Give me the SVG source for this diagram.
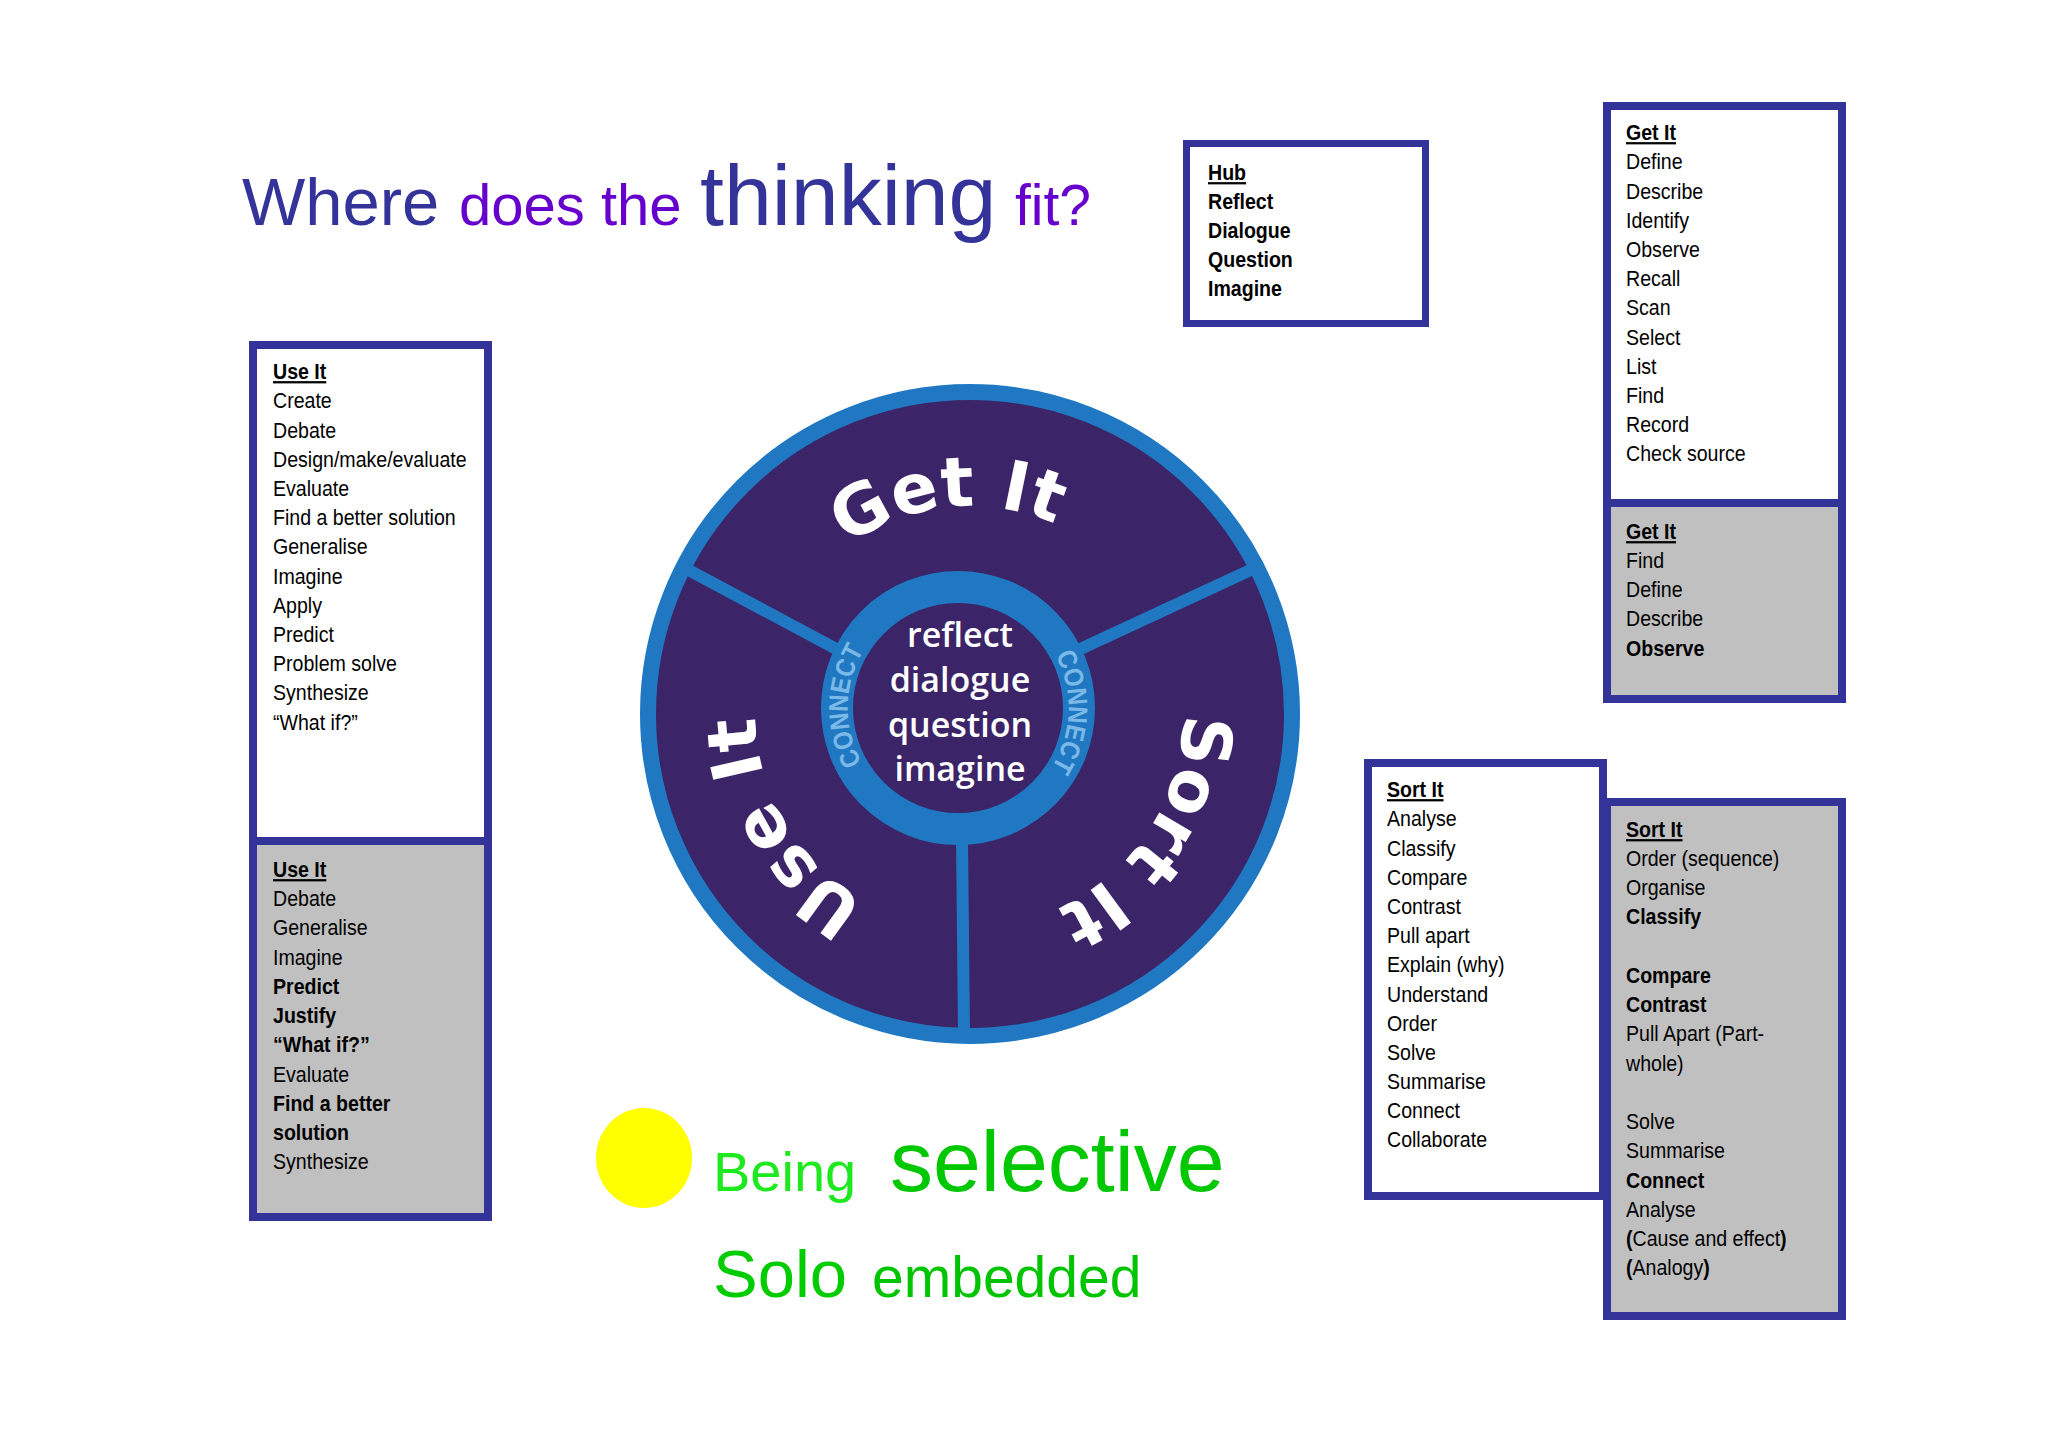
<svg xmlns="http://www.w3.org/2000/svg" width="2048" height="1447" viewBox="0 0 2048 1447">
<style>
.box{stroke:#333399;stroke-width:8}
.w{fill:#ffffff}
.g{fill:#c0c0c0}
.t{font-family:"Liberation Sans Narrow","Arial Narrow","Liberation Sans",Arial,sans-serif;font-size:22.5px;fill:#000}
.b{font-weight:bold}
.h{font-weight:bold;text-decoration:underline}
.lab{font-family:"DejaVu Sans","Liberation Sans",sans-serif;font-weight:bold;font-size:69px;fill:#ffffff}
.con{font-family:"Liberation Sans","Arial",sans-serif;font-weight:bold;font-size:27px;fill:#7ab8e8}
.hubt{font-family:"Open Sans","Noto Sans",sans-serif;font-size:34px;font-weight:600;fill:#ffffff;text-anchor:middle}
.sp{stroke:#1f78c1;stroke-width:12;fill:none}
</style>
<defs>
<path id="arcGet" d="M 763.1 735.7 A 208 208 0 0 1 1176.9 692.3"/>
<path id="arcSort" d="M 1092.7 538.7 A 214 214 0 0 1 859.8 897.4"/>
<path id="arcUse" d="M 1073.8 901.2 A 214 214 0 0 1 853.5 534.5"/>
<path id="arcConL" d="M 954.1 818.9 A 111 111 0 0 1 958 597"/>
<path id="arcConR" d="M 965.7 597.3 A 111 111 0 0 1 958 819"/>
</defs>
<rect width="2048" height="1447" fill="#ffffff"/>

<g id="title" font-family="Liberation Sans, Arial, sans-serif">
<text y="225"><tspan x="242" font-size="67" fill="#333399">Where</tspan><tspan x="459" font-size="58" fill="#6600cc">does the</tspan><tspan x="700" font-size="86" fill="#333399">thinking</tspan><tspan x="1015" font-size="57" fill="#6600cc">fit?</tspan></text>
</g>

<g id="hub-box">
<rect class="box w" x="1186.5" y="143.5" width="239" height="180" style="stroke-width:7"/>
<text class="t b" transform="translate(1208 0) scale(0.87 1)"><tspan x="0" y="180" class="h">Hub</tspan><tspan x="0" y="209">Reflect</tspan><tspan x="0" y="238">Dialogue</tspan><tspan x="0" y="267">Question</tspan><tspan x="0" y="296">Imagine</tspan></text>
</g>

<g id="get-it-box">
<rect class="box w" x="1607" y="106" width="235" height="397"/>
<rect class="box g" x="1607" y="503" width="235" height="196"/>
<text class="t" transform="translate(1626 0) scale(0.87 1)"><tspan x="0" y="140" class="h">Get It</tspan><tspan x="0" y="169">Define</tspan><tspan x="0" y="199">Describe</tspan><tspan x="0" y="228">Identify</tspan><tspan x="0" y="257">Observe</tspan><tspan x="0" y="286">Recall</tspan><tspan x="0" y="315">Scan</tspan><tspan x="0" y="345">Select</tspan><tspan x="0" y="374">List</tspan><tspan x="0" y="403">Find</tspan><tspan x="0" y="432">Record</tspan><tspan x="0" y="461">Check source</tspan></text>
<text class="t" transform="translate(1626 0) scale(0.87 1)"><tspan x="0" y="539" class="h">Get It</tspan><tspan x="0" y="568">Find</tspan><tspan x="0" y="597">Define</tspan><tspan x="0" y="626">Describe</tspan><tspan x="0" y="656" class="b">Observe</tspan></text>
</g>

<g id="use-it-box">
<rect class="box w" x="253" y="345" width="235" height="496"/>
<rect class="box g" x="253" y="841" width="235" height="376"/>
<text class="t" transform="translate(273 0) scale(0.87 1)"><tspan x="0" y="379" class="h">Use It</tspan><tspan x="0" y="408">Create</tspan><tspan x="0" y="438">Debate</tspan><tspan x="0" y="467">Design/make/evaluate</tspan><tspan x="0" y="496">Evaluate</tspan><tspan x="0" y="525">Find a better solution</tspan><tspan x="0" y="554">Generalise</tspan><tspan x="0" y="584">Imagine</tspan><tspan x="0" y="613">Apply</tspan><tspan x="0" y="642">Predict</tspan><tspan x="0" y="671">Problem solve</tspan><tspan x="0" y="700">Synthesize</tspan><tspan x="0" y="730">“What if?”</tspan></text>
<text class="t" transform="translate(273 0) scale(0.87 1)"><tspan x="0" y="877" class="h">Use It</tspan><tspan x="0" y="906">Debate</tspan><tspan x="0" y="935">Generalise</tspan><tspan x="0" y="965">Imagine</tspan><tspan x="0" y="994" class="b">Predict</tspan><tspan x="0" y="1023" class="b">Justify</tspan><tspan x="0" y="1052" class="b">“What if?”</tspan><tspan x="0" y="1082">Evaluate</tspan><tspan x="0" y="1111" class="b">Find a better</tspan><tspan x="0" y="1140" class="b">solution</tspan><tspan x="0" y="1169">Synthesize</tspan></text>
</g>

<g id="sort-it-grey-box">
<rect class="box g" x="1607" y="802" width="235" height="514"/>
<text class="t" transform="translate(1626 0) scale(0.87 1)"><tspan x="0" y="837" class="h">Sort It</tspan><tspan x="0" y="866">Order (sequence)</tspan><tspan x="0" y="895">Organise</tspan><tspan x="0" y="924" class="b">Classify</tspan><tspan x="0" y="983" class="b">Compare</tspan><tspan x="0" y="1012" class="b">Contrast</tspan><tspan x="0" y="1041">Pull Apart (Part-</tspan><tspan x="0" y="1071">whole)</tspan><tspan x="0" y="1129">Solve</tspan><tspan x="0" y="1158">Summarise</tspan><tspan x="0" y="1188" class="b">Connect</tspan><tspan x="0" y="1217">Analyse</tspan><tspan x="0" y="1246"><tspan class="b">(</tspan>Cause and effect<tspan class="b">)</tspan></tspan><tspan x="0" y="1275"><tspan class="b">(</tspan>Analogy<tspan class="b">)</tspan></tspan></text>
</g>

<g id="sort-it-box">
<rect class="box w" x="1368" y="763" width="235" height="433"/>
<text class="t" transform="translate(1387 0) scale(0.87 1)"><tspan x="0" y="797" class="h">Sort It</tspan><tspan x="0" y="826">Analyse</tspan><tspan x="0" y="856">Classify</tspan><tspan x="0" y="885">Compare</tspan><tspan x="0" y="914">Contrast</tspan><tspan x="0" y="943">Pull apart</tspan><tspan x="0" y="972">Explain (why)</tspan><tspan x="0" y="1002">Understand</tspan><tspan x="0" y="1031">Order</tspan><tspan x="0" y="1060">Solve</tspan><tspan x="0" y="1089">Summarise</tspan><tspan x="0" y="1118">Connect</tspan><tspan x="0" y="1147">Collaborate</tspan></text>
</g>

<g id="wheel">
<circle cx="970" cy="714" r="322" fill="#3b2467" stroke="#1f78c1" stroke-width="16"/>
<g id="connectors">
<line class="sp" x1="842" y1="652" x2="681" y2="566"/>
<line class="sp" x1="1076" y1="651" x2="1257" y2="567"/>
<line class="sp" x1="962" y1="838" x2="964" y2="1032"/>
</g>
<circle cx="958" cy="708" r="121" fill="#3b2467" stroke="#1f78c1" stroke-width="32"/>
<text class="lab"><textPath href="#arcGet" startOffset="50%" text-anchor="middle">Get It</textPath></text>
<text class="lab"><textPath href="#arcSort" startOffset="50%" text-anchor="middle">Sort It</textPath></text>
<text class="lab"><textPath href="#arcUse" startOffset="50%" text-anchor="middle">Use It</textPath></text>
<text class="con"><textPath href="#arcConL" startOffset="50%" text-anchor="middle" textLength="118" lengthAdjust="spacingAndGlyphs">CONNECT</textPath></text>
<text class="con"><textPath href="#arcConR" startOffset="50%" text-anchor="middle" textLength="118" lengthAdjust="spacingAndGlyphs">CONNECT</textPath></text>
<text class="hubt"><tspan x="960" y="647">reflect</tspan><tspan x="960" y="692">dialogue</tspan><tspan x="960" y="737">question</tspan><tspan x="960" y="781">imagine</tspan></text>
</g>

<g id="selective">
<ellipse cx="644" cy="1158" rx="48" ry="50" fill="#ffff00"/>
<text font-family="Liberation Sans, Arial, sans-serif"><tspan x="713" y="1191" font-size="56" fill="#1ee81e">Being</tspan><tspan x="890" y="1191" font-size="86" fill="#00c800">selective</tspan></text>
<text font-family="Liberation Sans, Arial, sans-serif"><tspan x="713" y="1297" font-size="67" fill="#00cc00">Solo</tspan><tspan x="872" y="1297" font-size="57" fill="#00c400">embedded</tspan></text>
</g>
</svg>
